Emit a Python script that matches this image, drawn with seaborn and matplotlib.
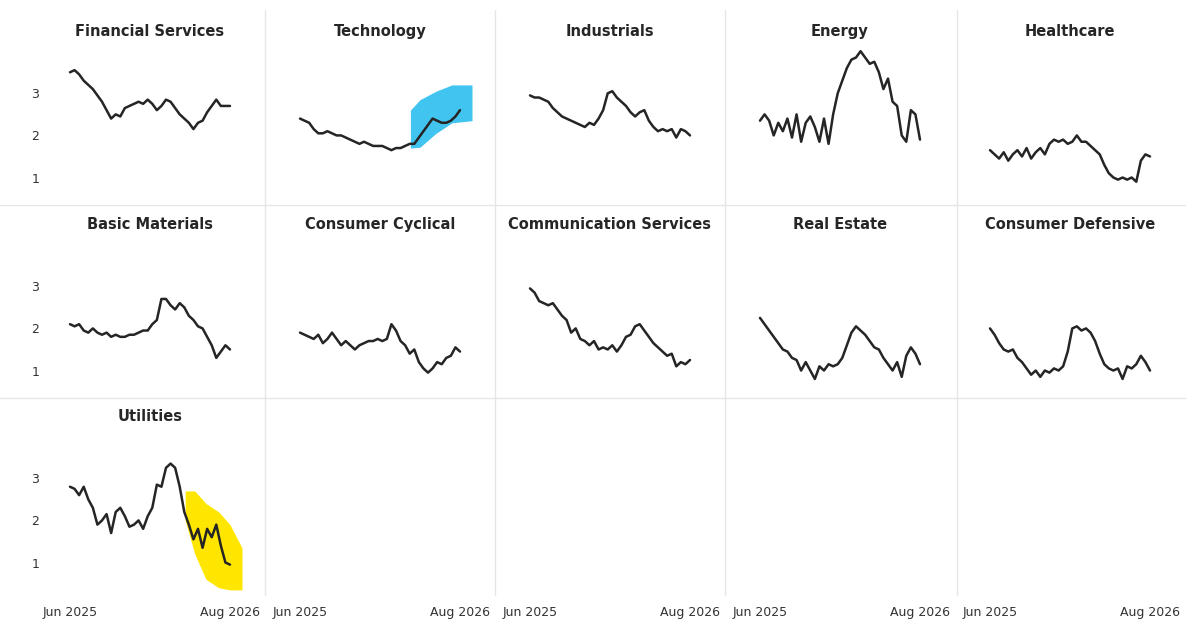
import numpy as np
import pandas as pd
import matplotlib
matplotlib.use("Agg")
import matplotlib.pyplot as plt
import seaborn as sns

sectors = ["Financial Services", "Technology", "Industrials", "Energy", "Healthcare",
           "Basic Materials", "Consumer Cyclical", "Communication Services", "Real Estate",
           "Consumer Defensive", "Utilities"]

financial = [3.5,3.55,3.45,3.3,3.2,3.1,2.95,2.8,2.6,2.4,2.5,2.45,2.65,2.7,2.75,2.8,2.75,2.85,2.75,2.6,2.7,2.85,2.8,2.65,2.5,2.4,2.3,2.15,2.3,2.35,2.55,2.7,2.85,2.7,2.7,2.7]
technology = [2.4,2.35,2.3,2.15,2.05,2.05,2.1,2.05,2.0,2.0,1.95,1.9,1.85,1.8,1.85,1.8,1.75,1.75,1.75,1.7,1.65,1.7,1.7,1.75,1.8,1.8,1.95,2.1,2.25,2.4,2.35,2.3,2.3,2.35,2.45,2.6]
industrials = [2.95,2.9,2.9,2.85,2.8,2.65,2.55,2.45,2.4,2.35,2.3,2.25,2.2,2.3,2.25,2.4,2.6,3.0,3.05,2.9,2.8,2.7,2.55,2.45,2.55,2.6,2.35,2.2,2.1,2.15,2.1,2.15,1.95,2.15,2.1,2.0]
energy = [2.35,2.5,2.35,2.0,2.3,2.1,2.4,1.95,2.5,1.85,2.3,2.45,2.2,1.85,2.4,1.8,2.5,3.0,3.3,3.6,3.8,3.85,4.0,3.85,3.7,3.75,3.5,3.1,3.35,2.8,2.7,2.0,1.85,2.6,2.5,1.9]
healthcare = [1.65,1.55,1.45,1.6,1.4,1.55,1.65,1.5,1.7,1.45,1.6,1.7,1.55,1.8,1.9,1.85,1.9,1.8,1.85,2.0,1.85,1.85,1.75,1.65,1.55,1.3,1.1,1.0,0.95,1.0,0.95,1.0,0.9,1.4,1.55,1.5]
basic_materials = [2.1,2.05,2.1,1.95,1.9,2.0,1.9,1.85,1.9,1.8,1.85,1.8,1.8,1.85,1.85,1.9,1.95,1.95,2.1,2.2,2.7,2.7,2.55,2.45,2.6,2.5,2.3,2.2,2.05,2.0,1.8,1.6,1.3,1.45,1.6,1.5]
consumer_cyclical = [1.9,1.85,1.8,1.75,1.85,1.65,1.75,1.9,1.75,1.6,1.7,1.6,1.5,1.6,1.65,1.7,1.7,1.75,1.7,1.75,2.1,1.95,1.7,1.6,1.4,1.5,1.2,1.05,0.95,1.05,1.2,1.15,1.3,1.35,1.55,1.45]
communication = [2.95,2.85,2.65,2.6,2.55,2.6,2.45,2.3,2.2,1.9,2.0,1.75,1.7,1.6,1.7,1.5,1.55,1.5,1.6,1.45,1.6,1.8,1.85,2.05,2.1,1.95,1.8,1.65,1.55,1.45,1.35,1.4,1.1,1.2,1.15,1.25]
real_estate = [2.25,2.1,1.95,1.8,1.65,1.5,1.45,1.3,1.25,1.0,1.2,1.0,0.8,1.1,1.0,1.15,1.1,1.15,1.3,1.6,1.9,2.05,1.95,1.85,1.7,1.55,1.5,1.3,1.15,1.0,1.2,0.85,1.35,1.55,1.4,1.15]
consumer_defensive = [2.0,1.85,1.65,1.5,1.45,1.5,1.3,1.2,1.05,0.9,1.0,0.85,1.0,0.95,1.05,1.0,1.1,1.45,2.0,2.05,1.95,2.0,1.9,1.7,1.4,1.15,1.05,1.0,1.05,0.8,1.1,1.05,1.15,1.35,1.2,1.0]
utilities = [2.8,2.75,2.6,2.8,2.5,2.3,1.9,2.0,2.15,1.7,2.2,2.3,2.1,1.85,1.9,2.0,1.8,2.1,2.3,2.85,2.8,3.25,3.35,3.25,2.8,2.2,1.9,1.55,1.8,1.35,1.8,1.6,1.9,1.4,1.0,0.95]

series = [financial, technology, industrials, energy, healthcare, basic_materials,
          consumer_cyclical, communication, real_estate, consumer_defensive, utilities]

# highlight bands: position as share of the date range, low / high
tech_band_pos = [0.69, 0.75, 0.85, 0.95, 1.075]
tech_band_low = [1.7, 1.72, 2.05, 2.3, 2.35]
tech_band_high = [2.6, 2.85, 3.05, 3.2, 3.2]
util_band_pos = [0.72, 0.78, 0.85, 0.93, 1.0, 1.075]
util_band_low = [2.0, 1.2, 0.6, 0.4, 0.35, 0.35]
util_band_high = [2.7, 2.7, 2.4, 2.2, 1.9, 1.35]

start, end = pd.Timestamp("2025-06-01"), pd.Timestamp("2026-08-15")
dates = pd.date_range(start, end, periods=len(financial))
span = end - start

sns.set_theme(style="white")
plt.rcParams["font.family"] = ["DejaVu Sans"]
fig = plt.figure(figsize=(12, 6.4), dpi=100)
W, H = 1200, 640

def box(x0, y0, x1, y1):
    return [x0 / W, 1 - y1 / H, (x1 - x0) / W, (y1 - y0) / H]

row_tops = [47, 240, 432]
for r in range(3):
    for c in range(5):
        i = r * 5 + c
        left = 45 + 230 * c
        ax = fig.add_axes(box(left, row_tops[r], left + 210, row_tops[r] + 160))
        ax.set_xlim(start - span * 25 / 160, end + span * 25 / 160)
        ax.set_ylim(0.3, 4.1)
        for s in ax.spines.values():
            s.set_visible(False)
        ax.set_facecolor("none")
        if i < len(sectors):
            name = sectors[i]
            if name == "Technology":
                bx = [start + span * p for p in tech_band_pos]
                ax.fill_between(bx, tech_band_low, tech_band_high, color="#41c4f0", lw=0)
            if name == "Utilities":
                bx = [start + span * p for p in util_band_pos]
                ax.fill_between(bx, util_band_low, util_band_high, color="#ffe600", lw=0)
            df = pd.DataFrame({"date": dates, "value": series[i]})
            sns.lineplot(data=df, x="date", y="value", ax=ax, color="#252525", lw=1.8)
            ax.set_title(name, fontsize=10.5, fontweight="bold", pad=8)
        ax.set_xlabel("")
        ax.set_ylabel("")
        if c == 0 and i < len(sectors):
            ax.set_yticks([1, 2, 3])
            ax.tick_params(axis="y", labelsize=9, length=0, pad=4, colors="#333333")
        else:
            ax.set_yticks([])
        if r == 2:
            ax.set_xticks([start, end])
            ax.set_xticklabels(["Jun 2025", "Aug 2026"])
            ax.tick_params(axis="x", labelsize=9, length=0, pad=10, colors="#333333")
        else:
            ax.set_xticks([])

# panel separators
for xv in [265, 495, 725, 957]:
    fig.add_artist(plt.Line2D([xv / W] * 2, [1 - 10 / H, 1 - 595 / H], color="#e6e6e6", lw=1))
for yv in [205, 398]:
    fig.add_artist(plt.Line2D([0, 1185 / W], [1 - yv / H] * 2, color="#e6e6e6", lw=1))

fig.savefig("out.png", dpi=100)
